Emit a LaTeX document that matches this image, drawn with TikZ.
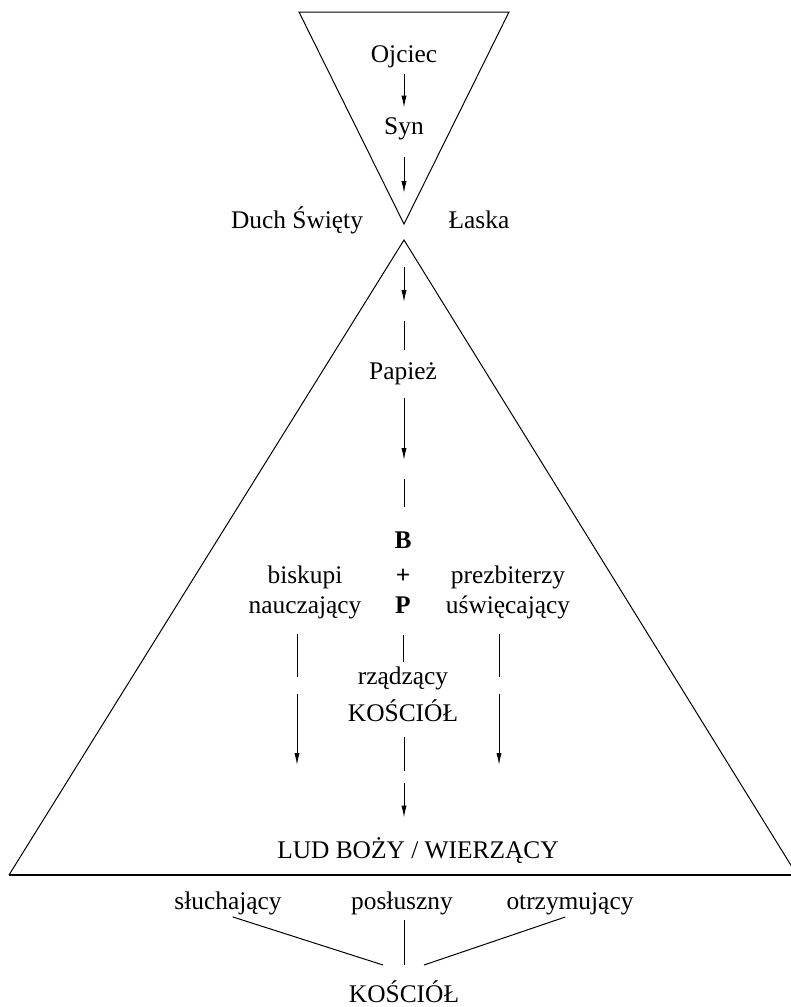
\documentclass[tikz,border=0pt]{standalone}
\usepackage{fontspec}
\setmainfont{Liberation Serif}
\usepackage{tikz}
\usetikzlibrary{arrows.meta,positioning,calc}

\newcommand{\diagfont}{\fontsize{12.7}{15}\selectfont}

\tikzset{
    lbl/.style={inner sep=0pt, text height=9pt, text depth=3pt},
    bld/.style={lbl, font=\diagfont\bfseries},
    edge/.style={line width=0.5pt},
    flow/.style={edge, -{Latex[length=6pt,width=2.6pt]}}
}

\begin{document}
\begin{tikzpicture}[x=0.5pt, y=-0.5pt, font=\diagfont]
    \useasboundingbox (0,0) rectangle (791,1007);

    \draw[edge] (299,12) -- (509,12) -- (404,224) -- cycle;
    \draw[edge] (9,875) -- (404,240) -- (797,875);
    \draw[line width=0.75pt] (9,875) -- (797,875);

    \coordinate (apexT) at (404,224);
    \coordinate (apexB) at (404,240);

    \node[lbl] (ojciec) at (404,56) {Ojciec};
    \node[lbl] (syn) at (404,128) {Syn};
    \node[lbl] (duch) at (297,222) {Duch Święty};
    \node[lbl] (laska) at (479,222) {Łaska};
    \node[lbl] (papiez) at (403,373) {Papież};
    \node[bld] (bb) at (403,542) {B};
    \node[bld] (plus) at (403,577) {+};
    \node[bld] (pp) at (403,607) {P};
    \node[lbl] (biskupi) at (305,577) {biskupi};
    \node[lbl] (naucz) at (305,607) {nauczający};
    \node[lbl] (prezb) at (508,577) {prezbiterzy};
    \node[lbl] (uswiec) at (508,607) {uświęcający};
    \node[lbl] (rzadz) at (403,678) {rządzący};
    \node[lbl] (koscA) at (403,715) {KOŚCIÓŁ};
    \node[lbl] (lud) at (418,852) {LUD BOŻY / WIERZĄCY};
    \node[lbl] (sluch) at (228,903) {słuchający};
    \node[lbl] (poslu) at (402,903) {posłuszny};
    \node[lbl] (otrzy) at (570,903) {otrzymujący};
    \node[lbl] (koscB) at (404,996) {KOŚCIÓŁ};

    \coordinate (gP) at (404,311);
    \coordinate (gB) at (404,469);
    \coordinate (gL) at (404,777);
    \coordinate (gBL) at (297,685);
    \coordinate (tipBL) at (297,765);
    \coordinate (gBR) at (499,685);
    \coordinate (tipBR) at (499,765);
    \coordinate (jl) at (383,965);
    \coordinate (jm) at (404,965);
    \coordinate (jr) at (424,965);

    \draw[flow, shorten <=3pt, shorten >=4pt] (ojciec) -- (syn);
    \draw[flow, shorten <=8.5pt, shorten >=15.5pt] (syn) -- (apexT);
    \draw[flow, shorten <=13.5pt, shorten >=4.5pt] (apexB) -- (gP);
    \draw[edge, shorten <=5pt, shorten >=5.5pt] (gP) -- (papiez.north -| gP);
    \draw[flow, shorten <=6.5pt, shorten >=4.5pt] (papiez.south -| gB) -- (gB);
    \draw[edge, shorten <=5pt, shorten >=11.5pt] (gB) -- (bb.north -| gB);
    \draw[edge, shorten <=8pt, shorten >=2pt] (pp.south) -- (rzadz.north);
    \draw[edge, shorten <=5pt, shorten >=3pt] (koscA.south -| gL) -- (gL);
    \draw[flow, shorten <=3pt, shorten >=11pt] (gL) -- (lud.north -| gL);

    \draw[edge, shorten <=7.5pt, shorten >=4pt] (naucz.south -| gBL) -- (gBL);
    \draw[flow, shorten <=4.5pt] (gBL) -- (tipBL);
    \draw[edge, shorten <=7.5pt, shorten >=4pt] (uswiec.south -| gBR) -- (gBR);
    \draw[flow, shorten <=4.5pt] (gBR) -- (tipBR);

    \draw[edge, shorten <=2.5pt] (sluch.south) -- (jl);
    \draw[edge, shorten <=2.5pt] (poslu.south -| jm) -- (jm);
    \draw[edge, shorten <=2.5pt] (otrzy.south) -- (jr);
\end{tikzpicture}
\end{document}
